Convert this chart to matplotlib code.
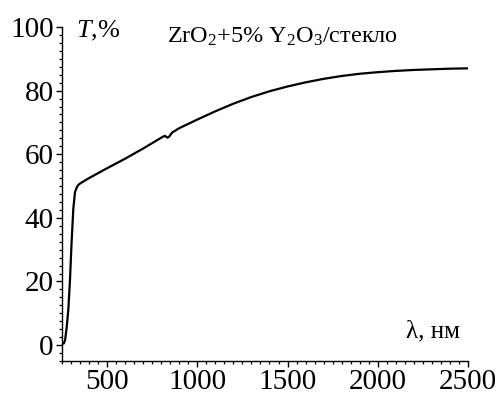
import numpy as np
import matplotlib
matplotlib.use('Agg')
import matplotlib.pyplot as plt
from matplotlib.ticker import MultipleLocator

# Данные
wavelength = [250, 260, 267, 275, 285, 294, 303, 313, 322, 332, 340, 350, 400, 500,
              600, 700, 800, 820, 835, 845, 860, 900, 1000, 1100, 1200, 1300, 1400,
              1500, 1600, 1700, 1800, 1900, 2000, 2100, 2200, 2300, 2400, 2500]
transmission = [0.5, 0.5, 1.5, 5, 11, 20, 32, 43, 48, 49.6, 50.3, 50.8, 52.5, 55.6,
                58.6, 61.8, 65.2, 65.8, 65.2, 65.6, 66.8, 68.2, 70.9, 73.5, 75.9, 78.0, 79.8,
                81.3, 82.6, 83.7, 84.6, 85.3, 85.8, 86.2, 86.5, 86.7, 86.9, 87.0]
x_ticks = [500, 1000, 1500, 2000, 2500]
y_ticks = [0, 20, 40, 60, 80, 100]

plt.rcParams['font.family'] = ['Liberation Serif', 'DejaVu Serif']
plt.rcParams['mathtext.fontset'] = 'custom'
plt.rcParams['mathtext.rm'] = 'Liberation Serif'
plt.rcParams['mathtext.it'] = 'Liberation Serif:italic'

fig = plt.figure(figsize=(4.99, 3.96), dpi=100)
ax = fig.add_axes([0.1242, 0.0884, 0.8136, 0.8434])

ax.plot(wavelength, transmission, color='black', linewidth=1.6)

ax.set_xlim(250, 2500)
ax.set_ylim(-5, 100)
ax.set_xticks(x_ticks)
ax.set_yticks(y_ticks)
ax.xaxis.set_minor_locator(MultipleLocator(50))
ax.yaxis.set_minor_locator(MultipleLocator(2.5))

ax.spines['top'].set_visible(False)
ax.spines['right'].set_visible(False)
for s in ['left', 'bottom']:
    ax.spines[s].set_linewidth(1.0)

ax.tick_params(which='major', direction='out', length=4, width=1.0, labelsize=21, pad=2)
ax.tick_params(which='minor', direction='out', length=2, width=0.9)

ax.text(0.034, 0.988, r'$\it{T}$,%', transform=ax.transAxes, fontsize=19,
        ha='left', va='center')
ax.text(0.259, 0.97, r'ZrO$_2$+5% Y$_2$O$_3$/стекло', transform=ax.transAxes,
        fontsize=17.5, ha='left', va='center')
ax.text(0.847, 0.087, 'λ, нм', transform=ax.transAxes, fontsize=18,
        ha='left', va='center')

fig.savefig('out.png', dpi=100)
